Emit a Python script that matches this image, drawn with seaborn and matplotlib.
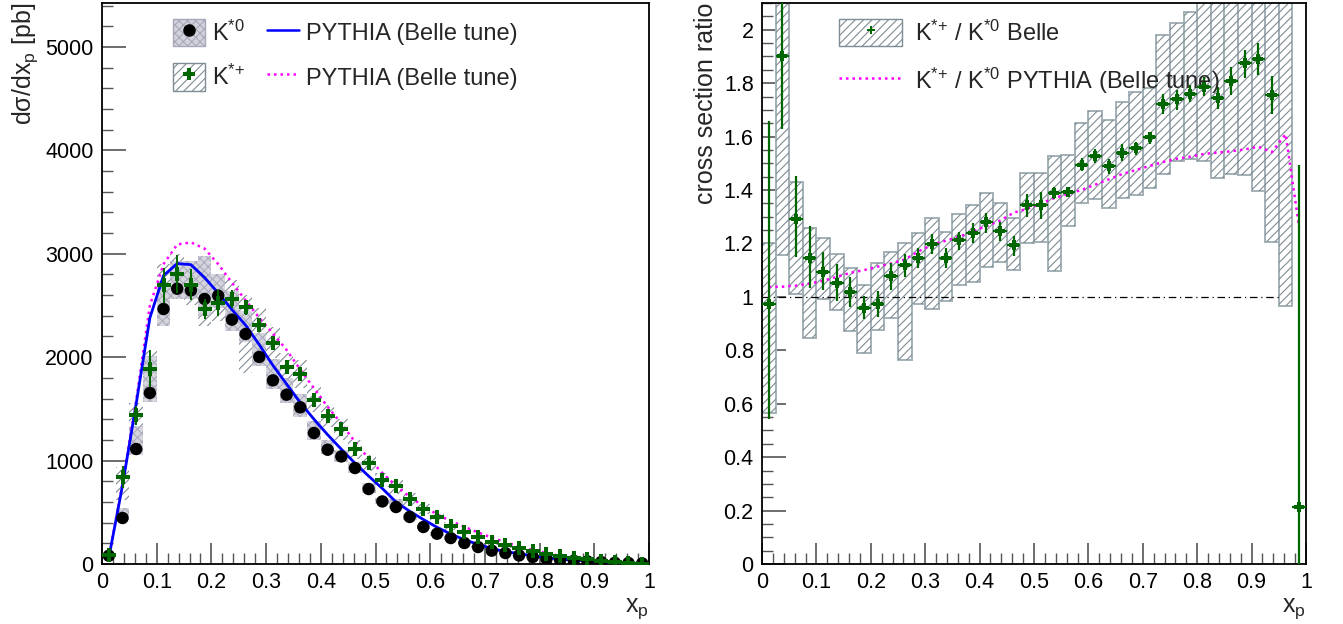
import numpy as np
import matplotlib
matplotlib.use("Agg")
import matplotlib.pyplot as plt
import seaborn as sns
import pandas as pd
from matplotlib.patches import Patch
from matplotlib.lines import Line2D
from matplotlib.ticker import MultipleLocator, FuncFormatter

# ---------------- data ----------------
xp_centers = [0.0125, 0.0375, 0.0625, 0.0875, 0.1125, 0.1375, 0.1625, 0.1875, 0.2125, 0.2375,
              0.2625, 0.2875, 0.3125, 0.3375, 0.3625, 0.3875, 0.4125, 0.4375, 0.4625, 0.4875,
              0.5125, 0.5375, 0.5625, 0.5875, 0.6125, 0.6375, 0.6625, 0.6875, 0.7125, 0.7375,
              0.7625, 0.7875, 0.8125, 0.8375, 0.8625, 0.8875, 0.9125, 0.9375, 0.9625, 0.9875]
bin_width = 0.025

k0_xsec = [80, 445, 1112, 1654, 2466, 2662, 2646, 2563, 2595, 2363,
           2224, 2002, 1776, 1637, 1515, 1267, 1105, 1040, 928, 725,
           605, 551, 455, 358, 293, 251, 203, 164, 129, 106,
           83, 68, 50, 37, 31, 25, 19, 12, 10, 6]
k0_sys_lo = [65, 430, 1057, 1563, 2298, 2560, 2560, 2400, 2476, 2250,
             2150, 1911, 1690, 1560, 1420, 1200, 1060, 990, 880, 690,
             580, 530, 430, 340, 275, 235, 190, 152, 120, 98,
             76, 62, 45, 33, 28, 22, 17, 10, 8, 4]
k0_sys_hi = [95, 537, 1331, 2015, 2700, 2927, 2927, 2980, 2807, 2637,
             2443, 2234, 1980, 1800, 1640, 1380, 1200, 1100, 990, 780,
             640, 630, 480, 380, 310, 268, 218, 176, 140, 114,
             90, 74, 55, 41, 34, 28, 21, 14, 12, 8]

kp_xsec = [85, 841, 1437, 1889, 2694, 2807, 2701, 2466, 2524, 2563,
           2482, 2314, 2137, 1905, 1837, 1589, 1427, 1302, 1112, 977,
           809, 750, 628, 532, 451, 370, 309, 257, 209, 180,
           151, 122, 96, 73, 61, 45, 32, 19, 13, 3]
kp_stat = [15, 105, 90, 180, 170, 185, 150, 92, 125, 85,
           70, 55, 50, 45, 40, 35, 30, 28, 25, 22,
           20, 18, 16, 14, 12, 11, 10, 9, 8, 7,
           6, 5, 5, 4, 4, 3, 3, 3, 2, 2]
kp_sys_lo = [70, 620, 1300, 1700, 2490, 2600, 2500, 2300, 2350, 2350,
             1850, 2150, 1990, 1770, 1700, 1470, 1320, 1200, 1020, 900,
             740, 680, 570, 480, 405, 330, 275, 228, 185, 158,
             132, 106, 83, 62, 52, 38, 27, 15, 10, 1]
kp_sys_hi = [100, 940, 1560, 2060, 2900, 3000, 2900, 2700, 2700, 2750,
             2600, 2480, 2290, 2040, 1970, 1710, 1540, 1400, 1200, 1050,
             880, 820, 690, 580, 495, 410, 342, 285, 232, 200,
             168, 138, 108, 84, 70, 52, 37, 23, 16, 5]

pythia_k0 = [60, 760, 1550, 2380, 2790, 2905, 2895, 2770, 2620, 2460,
             2310, 2120, 1920, 1740, 1560, 1400, 1250, 1110, 975, 850,
             730, 600, 510, 430, 355, 290, 235, 190, 150, 120,
             100, 80, 60, 48, 38, 28, 20, 14, 9, 5]
pythia_kp = [60, 780, 1580, 2500, 2900, 3090, 3110, 3050, 2900, 2720,
             2550, 2380, 2230, 2070, 1880, 1700, 1520, 1360, 1180, 1020,
             880, 755, 650, 560, 480, 415, 360, 305, 255, 210,
             170, 135, 105, 78, 58, 42, 28, 17, 10, 5]

ratio = [0.975, 1.9, 1.292, 1.144, 1.094, 1.052, 1.017, 0.959, 0.974, 1.077,
         1.119, 1.146, 1.199, 1.146, 1.213, 1.24, 1.28, 1.246, 1.194, 1.342,
         1.344, 1.39, 1.392, 1.495, 1.527, 1.49, 1.54, 1.556, 1.598, 1.721,
         1.742, 1.761, 1.787, 1.744, 1.808, 1.874, 1.892, 1.756, np.nan, 0.215]
ratio_err_up = [0.683, 0.2, 0.16, 0.12, 0.073, 0.072, 0.058, 0.046, 0.047, 0.05,
                0.042, 0.038, 0.037, 0.038, 0.031, 0.035, 0.035, 0.035, 0.033, 0.042,
                0.05, 0.022, 0.02, 0.026, 0.028, 0.027, 0.034, 0.024, 0.019, 0.04,
                0.033, 0.031, 0.035, 0.04, 0.053, 0.05, 0.06, 0.071, np.nan, 1.277]
ratio_err_dn = [0.432, 0.27, 0.143, 0.11, 0.07, 0.066, 0.055, 0.042, 0.049, 0.05,
                0.044, 0.037, 0.038, 0.037, 0.036, 0.038, 0.04, 0.037, 0.042, 0.042,
                0.052, 0.023, 0.02, 0.024, 0.027, 0.029, 0.032, 0.025, 0.027, 0.038,
                0.042, 0.031, 0.035, 0.039, 0.052, 0.053, 0.061, 0.07, np.nan, 0.3]
ratio_sys_lo = [0.565, 1.155, 1.012, 0.846, 0.992, 0.952, 0.874, 0.789, 0.875, 0.921,
                0.762, 0.975, 0.955, 0.984, 1.046, 1.055, 1.112, 1.13, 1.099, 1.2,
                1.205, 1.096, 1.265, 1.35, 1.367, 1.334, 1.371, 1.38, 1.409, 1.459,
                1.508, 1.517, 1.508, 1.446, 1.459, 1.455, 1.396, 1.206, 0.965, np.nan]
ratio_sys_hi = [1.2, 2.5, 1.43, 1.259, 1.22, 1.161, 1.109, 1.045, 1.127, 1.167,
                1.202, 1.24, 1.295, 1.244, 1.31, 1.342, 1.39, 1.35, 1.296, 1.462,
                1.465, 1.527, 1.531, 1.652, 1.696, 1.662, 1.731, 1.765, 1.78, 1.98,
                2.024, 2.065, 2.3, 2.3, 2.3, 2.3, 2.3, 2.3, 2.5, np.nan]
pythia_ratio = [1.037, 1.038, 1.042, 1.05, 1.06, 1.075, 1.09, 1.1, 1.113, 1.125,
                1.14, 1.17, 1.195, 1.21, 1.225, 1.245, 1.265, 1.285, 1.315, 1.33,
                1.35, 1.37, 1.385, 1.4, 1.42, 1.44, 1.46, 1.475, 1.49, 1.505,
                1.517, 1.525, 1.535, 1.54, 1.545, 1.552, 1.562, 1.542, 1.609, 1.26]
unity_line_x = [0.0, 0.955]
unity_line_y = [1.0, 1.0]

df = pd.DataFrame({
    "xp": xp_centers, "k0": k0_xsec, "kp": kp_xsec,
    "py_k0": pythia_k0, "py_kp": pythia_kp,
    "ratio": ratio, "py_ratio": pythia_ratio,
})

# ---------------- style ----------------
sns.set_theme(style="ticks")
plt.rcParams["font.family"] = ["Liberation Sans", "DejaVu Sans"]
plt.rcParams["mathtext.fontset"] = "custom"
plt.rcParams["mathtext.rm"] = "Liberation Sans"
plt.rcParams["mathtext.it"] = "Liberation Sans:italic"
plt.rcParams["mathtext.bf"] = "Liberation Sans:bold"
plt.rcParams["hatch.linewidth"] = 0.8

GREEN = "#006600"
HATCH = "#7e8c94"
EDGE = "#a3b0b6"
GREYFILL = "#d2d2dc"
GREYHATCH = "#a8a8bb"
TICKFS = 15.5
TITLEFS = 18
LEGFS = 17

fig = plt.figure(figsize=(13.43, 6.24), dpi=100)
W, H = 1343, 624
axL = fig.add_axes([102 / W, 60 / H, 547 / W, 561 / H])
axR = fig.add_axes([762 / W, 60 / H, 544 / W, 561 / H])

def style_axis(ax, ymajor, yminor):
    ax.set_xlim(0, 1)
    ax.xaxis.set_major_locator(MultipleLocator(0.1))
    ax.xaxis.set_minor_locator(MultipleLocator(0.02))
    ax.yaxis.set_major_locator(MultipleLocator(ymajor))
    ax.yaxis.set_minor_locator(MultipleLocator(yminor))
    fmt = FuncFormatter(lambda v, p: f"{v:g}")
    ax.xaxis.set_major_formatter(fmt)
    ax.yaxis.set_major_formatter(fmt)
    ax.tick_params(which="both", direction="in", top=False, right=False,
                   color="#555555", labelsize=TICKFS, labelcolor="black")
    ax.tick_params(which="major", length=15, width=1.2, pad=6)
    ax.tick_params(which="minor", length=8, width=1.0)
    ax.tick_params(axis="y", which="major", length=17)
    for s in ax.spines.values():
        s.set_visible(True)
        s.set_color("black")
        s.set_linewidth(1.3)
    ax.set_facecolor("white")

SUP_KP = "K$^{{*}{+}}$"
SUP_K0 = "K$^{{*}{0}}$"

# ---------------- left panel ----------------
x = np.array(xp_centers)
axL.bar(x, np.array(kp_sys_hi) - np.array(kp_sys_lo), bottom=kp_sys_lo, width=bin_width,
        facecolor="none", edgecolor=HATCH, hatch="////", linewidth=0, zorder=1)
axL.bar(x, np.array(k0_sys_hi) - np.array(k0_sys_lo), bottom=k0_sys_lo, width=bin_width,
        facecolor=GREYFILL, edgecolor=GREYHATCH, hatch="xxxx", linewidth=0, zorder=2, alpha=0.92)
sns.lineplot(data=df, x="xp", y="py_kp", ax=axL, color="#ff00ff", linewidth=1.8,
             linestyle=(0, (1, 1.6)), zorder=3, legend=False)
sns.lineplot(data=df, x="xp", y="py_k0", ax=axL, color="#0000ff", linewidth=2.0, zorder=4,
             legend=False)
sns.scatterplot(data=df, x="xp", y="k0", ax=axL, color="black", marker="o", s=80,
                edgecolor="none", zorder=5, legend=False)
axL.errorbar(x, kp_xsec, yerr=kp_stat, fmt="P", color=GREEN, ms=9.5, mew=0,
             elinewidth=1.4, capsize=2, capthick=1.2, zorder=6)
style_axis(axL, 1000, 200)
axL.set_ylim(0, 5425)
axL.set_xlabel("x$_\\mathrm{p}$", fontsize=TITLEFS, loc="right", labelpad=2)
axL.set_ylabel("dσ/dx$_\\mathrm{p}$ [pb]", fontsize=TITLEFS, loc="top", labelpad=4)

hK0 = (Patch(facecolor=GREYFILL, edgecolor=GREYHATCH, hatch="xxxx", linewidth=1.0),
       Line2D([], [], marker="o", color="black", ls="", ms=8))
hKp = (Patch(facecolor="white", edgecolor=HATCH, hatch="////", linewidth=1.0),
       Line2D([], [], marker="P", color=GREEN, ls="", ms=9, mew=0))
hPy1 = Line2D([], [], color="#0000ff", lw=1.8)
hPy2 = Line2D([], [], color="#ff00ff", lw=1.8, ls=(0, (1, 1.6)))
axL.legend([hK0, hKp, hPy1, hPy2],
           [SUP_K0, SUP_KP, "PYTHIA (Belle tune)", "PYTHIA (Belle tune)"],
           ncol=2, loc="upper left", bbox_to_anchor=(173 / W, 1 - 19 / H),
           bbox_transform=fig.transFigure, frameon=False, fontsize=LEGFS,
           handlelength=1.36, handleheight=1.4, handletextpad=0.3,
           columnspacing=0.9, labelspacing=0.72, borderpad=0, borderaxespad=0)

# ---------------- right panel ----------------
axR.bar(x, np.array(ratio_sys_hi) - np.array(ratio_sys_lo), bottom=ratio_sys_lo, width=bin_width,
        facecolor="white", edgecolor=EDGE, linewidth=1.4, zorder=1)
axR.bar(x, np.array(ratio_sys_hi) - np.array(ratio_sys_lo), bottom=ratio_sys_lo, width=bin_width,
        facecolor="none", edgecolor=HATCH, hatch="////", linewidth=0, zorder=1.5)
axR.plot(unity_line_x, unity_line_y, color="black", lw=0.9, ls=(0, (6, 3, 1, 3)), zorder=2)
sns.lineplot(data=df, x="xp", y="py_ratio", ax=axR, color="#ff00ff", linewidth=1.8,
             linestyle=(0, (1, 1.6)), zorder=3, legend=False)
axR.errorbar(x, ratio, yerr=[ratio_err_dn, ratio_err_up], xerr=bin_width / 2, fmt="P",
             color=GREEN, ms=6.5, mew=0, elinewidth=1.6, capsize=1.8, capthick=1.3, zorder=5)
style_axis(axR, 0.2, 0.05)
axR.set_ylim(0, 2.1)
axR.set_xlabel("x$_\\mathrm{p}$", fontsize=TITLEFS, loc="right", labelpad=2)
axR.set_ylabel("cross section ratio", fontsize=TITLEFS, loc="top", labelpad=4)

hR1 = (Patch(facecolor="white", edgecolor=HATCH, hatch="////", linewidth=1.0),
       Line2D([], [], marker="P", color=GREEN, ls="", ms=6, mew=0))
hR2 = Line2D([], [], color="#ff00ff", lw=1.8, ls=(0, (1, 1.6)))
axR.legend([hR1, hR2],
           [SUP_KP + " / " + SUP_K0 + " Belle",
            SUP_KP + " / " + SUP_K0 + " PYTHIA (Belle tune)"],
           loc="upper left", bbox_to_anchor=(839 / W, 1 - 19 / H),
           bbox_transform=fig.transFigure, frameon=False, fontsize=LEGFS,
           handlelength=2.67, handleheight=1.4, handletextpad=0.55,
           labelspacing=0.82, borderpad=0, borderaxespad=0)

fig.savefig("out.png", dpi=100, facecolor="white")
